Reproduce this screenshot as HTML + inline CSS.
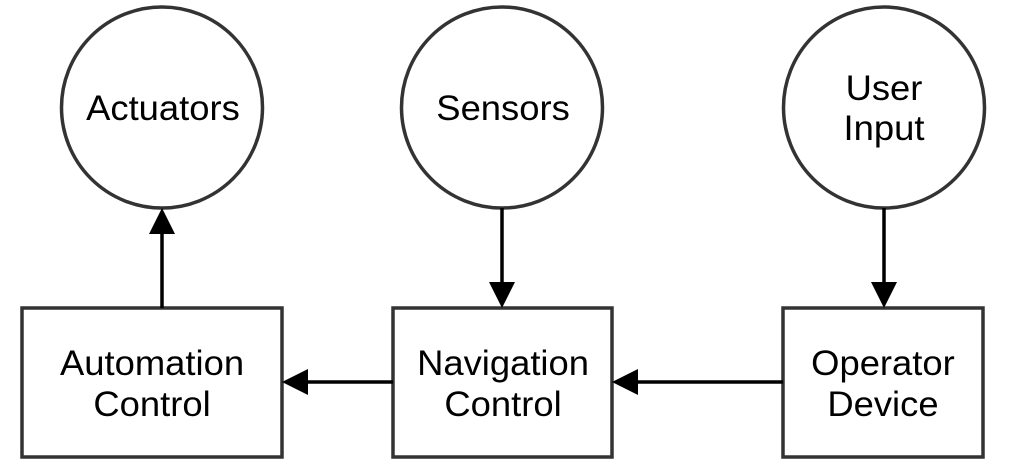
<!DOCTYPE html>
<html><head><style>
html,body{margin:0;padding:0;background:#fff;}
svg{display:block;}
text{font-family:"Liberation Sans",sans-serif;font-size:35px;fill:#000;}
</style></head><body>
<svg width="1017" height="472" viewBox="0 0 1017 472">
<g fill="#fff" stroke="#333" stroke-width="3.5">
<circle cx="162" cy="107.5" r="100.5"/>
<circle cx="502" cy="107.5" r="100.5"/>
<circle cx="884" cy="107.5" r="100.5"/>
<rect x="22" y="308" width="260" height="149"/>
<rect x="393" y="308" width="219" height="149"/>
<rect x="783" y="308" width="200" height="149"/>
</g>
<g stroke="#000" stroke-width="3.5">
<line x1="162" y1="308" x2="162" y2="232"/>
<line x1="502" y1="208" x2="502" y2="284"/>
<line x1="884" y1="208" x2="884" y2="284"/>
<line x1="783" y1="382" x2="636" y2="382"/>
<line x1="393" y1="382" x2="306" y2="382"/>
</g>
<g fill="#000">
<polygon points="162,208 149,234 175,234"/>
<polygon points="502,308 489,282 515,282"/>
<polygon points="884,308 871,282 897,282"/>
<polygon points="612,382 638,369 638,395"/>
<polygon points="282,382 308,369 308,395"/>
</g>
<g text-anchor="middle" transform="scale(1.04,1)">
<text x="156.7" y="120">Actuators</text>
<text x="483.7" y="120">Sensors</text>
<text x="850" y="100">User</text>
<text x="850" y="140">Input</text>
<text x="146.2" y="375">Automation</text>
<text x="146.2" y="416">Control</text>
<text x="483.7" y="375">Navigation</text>
<text x="483.7" y="416">Control</text>
<text x="849" y="375">Operator</text>
<text x="849" y="416">Device</text>
</g>
</svg>
</body></html>
